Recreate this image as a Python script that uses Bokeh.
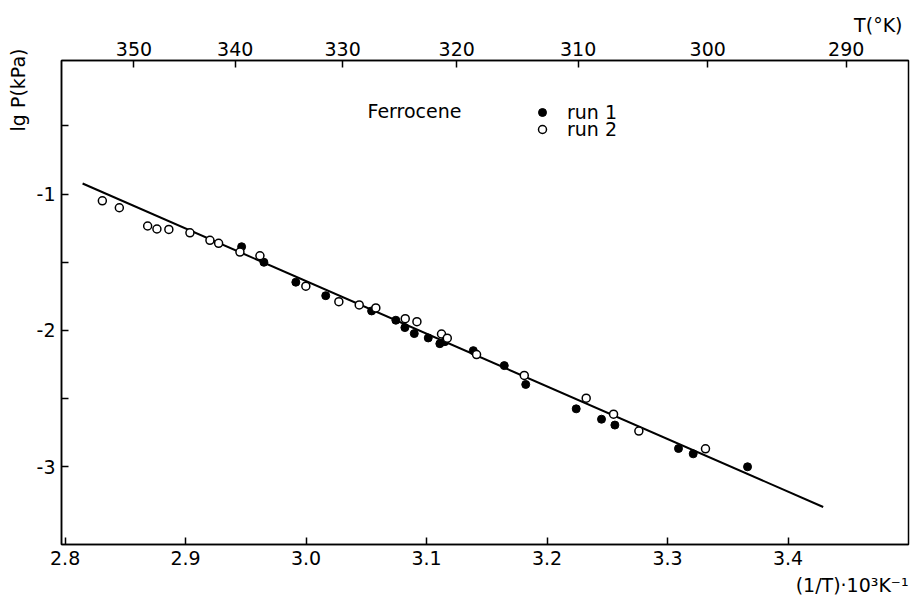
from bokeh.plotting import figure
from bokeh.models import LinearAxis, FixedTicker, Range1d, Title, Label, Legend, LegendItem
from bokeh.embed import file_html
from bokeh.resources import INLINE

# ---------------- data ----------------
run1_x = [2.9465, 2.9650, 2.9915, 3.0163, 3.0544, 3.0745, 3.0820, 3.0898, 3.1014,
          3.1110, 3.1152, 3.1388, 3.1645, 3.1823, 3.2242, 3.2452, 3.2563, 3.3091,
          3.3213, 3.3664]
run1_y = [-1.386, -1.500, -1.646, -1.745, -1.857, -1.925, -1.979, -2.023, -2.055,
          -2.097, -2.082, -2.148, -2.258, -2.396, -2.575, -2.651, -2.694, -2.866,
          -2.905, -3.000]

run2_x = [2.8309, 2.8450, 2.8685, 2.8762, 2.8861, 2.9036, 2.9202, 2.9274, 2.9451,
          2.9617, 2.9998, 3.0272, 3.0441, 3.0579, 3.0823, 3.0920, 3.1124, 3.1172,
          3.1415, 3.1811, 3.2325, 3.2552, 3.2762, 3.3315]
run2_y = [-1.049, -1.100, -1.234, -1.256, -1.259, -1.284, -1.339, -1.361, -1.425,
          -1.452, -1.675, -1.789, -1.813, -1.835, -1.914, -1.936, -2.026, -2.057,
          -2.177, -2.330, -2.497, -2.614, -2.738, -2.868]

fit_x = [2.8145, 3.4292]
fit_y = [-0.922, -3.295]

x_ticks = [2.8, 2.9, 3.0, 3.1, 3.2, 3.3, 3.4]
x_tick_labels = ["2.8", "2.9", "3.0", "3.1", "3.2", "3.3", "3.4"]
y_ticks = [-0.5, -1.0, -1.5, -2.0, -2.5, -3.0]
y_tick_labels = ["", "-1", "", "-2", "", "-3"]
temps_K = [350, 340, 330, 320, 310, 300, 290]
temp_labels = ["350", "340", "330", "320", "310", "300", "290"]

FONT = "DejaVu Sans"
FS = "19px"

p = figure(width=915, height=599, output_backend="svg", toolbar_location=None,
           title=None,
           x_range=Range1d(2.797, 3.500), y_range=Range1d(-3.57, -0.02),
           min_border_left=61, min_border_right=7, min_border_top=60, min_border_bottom=54)
p.background_fill_color = "white"
p.border_fill_color = "white"
p.outline_line_color = "black"
p.outline_line_width = 1.5
p.xgrid.visible = False
p.ygrid.visible = False


def style_axis(ax, standoff):
    ax.axis_line_color = "black"
    ax.axis_line_width = 1.5
    ax.major_tick_line_color = "black"
    ax.major_tick_line_width = 1.5
    ax.major_tick_in = 7
    ax.major_tick_out = 0
    ax.minor_tick_line_color = None
    ax.major_label_text_font = FONT
    ax.major_label_text_font_size = FS
    ax.major_label_text_color = "black"
    ax.major_label_standoff = standoff


xa = p.xaxis[0]
xa.ticker = FixedTicker(ticks=x_ticks)
xa.major_label_overrides = {t: s for t, s in zip(x_ticks, x_tick_labels)}
style_axis(xa, 6)

ya = p.yaxis[0]
ya.ticker = FixedTicker(ticks=y_ticks)
ya.major_label_overrides = {t: s for t, s in zip(y_ticks, y_tick_labels)}
style_axis(ya, 6)

top_pos = [1000.0 / T for T in temps_K]
top = LinearAxis(ticker=FixedTicker(ticks=top_pos),
                 major_label_overrides={t: s for t, s in zip(top_pos, temp_labels)})
style_axis(top, 5)
p.add_layout(top, "above")

# fitted line and points
p.line(fit_x, fit_y, line_color="black", line_width=2)
r1 = p.scatter(run1_x, run1_y, marker="circle", size=8, fill_color="black", line_color="black")
r2 = p.scatter(run2_x, run2_y, marker="circle", size=8, fill_color="white",
               line_color="black", line_width=1.5)


def make_title(text, align, offset, standoff):
    t = Title(text=text, align=align, offset=offset, text_font=FONT,
              text_font_size=FS, text_font_style="normal", text_color="black")
    try:
        t.standoff = standoff
    except AttributeError:
        pass
    return t


p.add_layout(make_title("T(°K)", "right", 6, 6), "above")
p.add_layout(make_title("(1/T)·10³K⁻¹", "right", 0, 8), "below")
p.add_layout(make_title("lg P(kPa)", "right", -12, 9), "left")

p.add_layout(Label(x=306, y=434, x_units="screen", y_units="screen", text="Ferrocene",
                   text_baseline="middle", text_font=FONT, text_font_size=FS,
                   text_color="black"))


def make_legend(label, renderer, loc):
    return Legend(items=[LegendItem(label=label, renderers=[renderer])],
                  location=loc, orientation="vertical",
                  border_line_color=None, background_fill_alpha=0,
                  padding=0, margin=0, spacing=0,
                  glyph_width=20, glyph_height=20, label_height=17,
                  label_standoff=15, label_text_font=FONT, label_text_font_size=FS,
                  label_text_color="black")


p.add_layout(make_legend("run 1", r1, (471, 421)))
p.add_layout(make_legend("run 2", r2, (471, 404)))

open("out.html", "w").write(file_html(p, INLINE))
